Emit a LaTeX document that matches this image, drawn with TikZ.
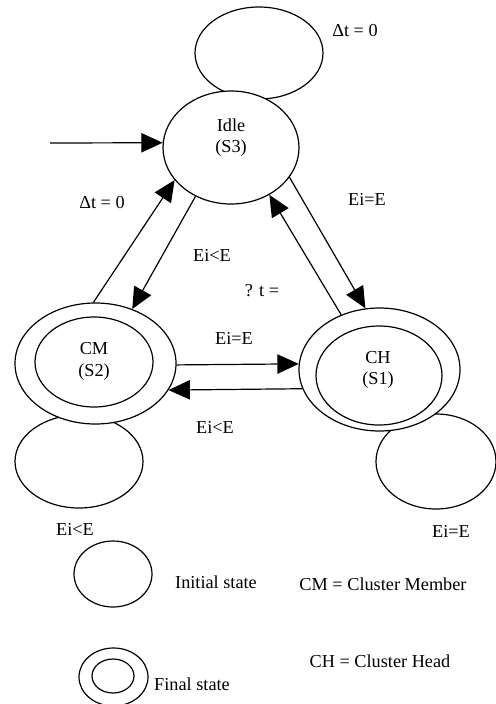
\documentclass[tikz,border=0pt]{standalone}
\usepackage{fontspec}
\setmainfont{Liberation Serif}
\usetikzlibrary{arrows.meta,shapes.geometric}
\begin{document}
\begin{tikzpicture}[x=0.75pt,y=-0.75pt,
  ring/.style={draw,ellipse,line width=0.9pt,inner sep=0pt,fill=white},
  loopring/.style={draw,ellipse,line width=0.9pt,inner sep=0pt},
  lbl/.style={font=\fontsize{13.7}{16}\selectfont,inner sep=0pt},
  arr/.style={line width=0.9pt,-{Triangle[length=16pt,width=14.5pt]}}]
\useasboundingbox (0,0) rectangle (496,704);
% self loops (drawn first, hidden behind states)
\node[loopring,minimum width=96pt,minimum height=69pt] (loopI) at (259,53) {};
\node[loopring,minimum width=96pt,minimum height=69.75pt] (loopCM) at (79,461.5) {};
\node[loopring,minimum width=90pt,minimum height=71.25pt] (loopCH) at (436,461.5) {};
% states
\node[ring,minimum width=102pt,minimum height=84.75pt] (Idle) at (231,147.5) {};
\node[ring,minimum width=120.75pt,minimum height=90.75pt] (CMo) at (95.5,363.5) {};
\node[ring,minimum width=88.5pt,minimum height=67.5pt] (CMi) at (94,362) {};
\node[ring,minimum width=120.75pt,minimum height=92.25pt] (CHo) at (379.5,369.5) {};
\node[ring,minimum width=94.5pt,minimum height=74.25pt] (CHi) at (379,375.5) {};
% state texts
\node[lbl] (tIdle) at (231,125) {Idle};
\node[lbl] (tS3) at (231,148) {(S3)};
\node[lbl] (tCM) at (94,349) {CM};
\node[lbl] (tS2) at (94,372) {(S2)};
\node[lbl] (tCH) at (378,358) {CH};
\node[lbl] (tS1) at (378,380) {(S1)};
% connectors
\coordinate (start) at (50,143);
\draw[arr] (start) -- (Idle.176);
\draw[arr] (CMo.92) -- (Idle.210.6);
\draw[arr] (Idle.234) -- (CMo.56.7);
\draw[arr] (CHo.125.9) -- (Idle.309.7);
\draw[arr] (Idle.333) -- (CHo.103.3);
\draw[arr] (CMo.-1) -- (CHo.176.8);
\draw[arr] (CHo.194.3) -- (CMo.340.6);
% labels
\node[lbl] (l1) at (355,31) {Δt = 0};
\node[lbl] (l2) at (102,203) {Δt = 0};
\node[lbl] (l3) at (367,199) {Ei=E};
\node[lbl] (l4) at (212,255) {Ei<E};
\node[lbl] (l5) at (262,291) {? t =};
\node[lbl] (l6) at (234,338) {Ei=E};
\node[lbl] (l7) at (215,427) {Ei<E};
\node[lbl] (l8) at (75,529) {Ei<E};
\node[lbl] (l9) at (451,531) {Ei=E};
% legend
\node[loopring,minimum width=58.5pt,minimum height=49.5pt] (legI) at (113,574) {};
\node[loopring,minimum width=51.75pt,minimum height=43.5pt] (legFo) at (113.5,677) {};
\node[loopring,minimum width=31.5pt,minimum height=25.5pt] (legFi) at (113,676) {};
\node[lbl] (li) at (216,582) {Initial state};
\node[lbl] (lf) at (192,684) {Final state};
\node[lbl] (lcm) at (383,584) {CM = Cluster Member};
\node[lbl] (lch) at (380,661) {CH = Cluster Head};
\end{tikzpicture}
\end{document}
